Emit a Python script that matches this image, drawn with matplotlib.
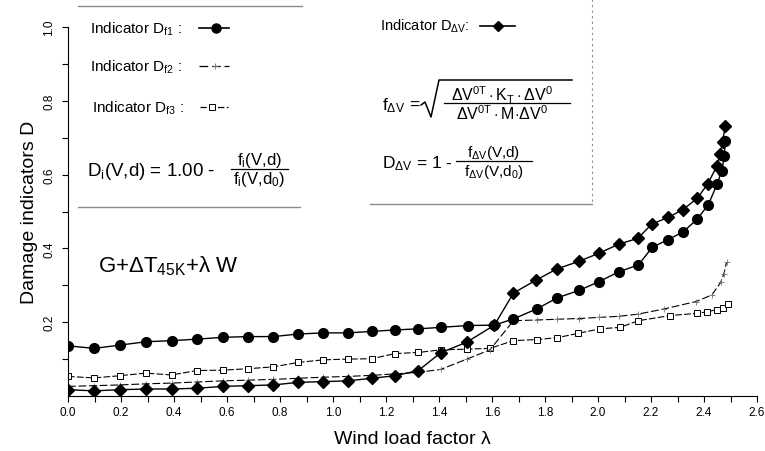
import numpy as np
import matplotlib.pyplot as plt
from matplotlib.lines import Line2D

plt.rcParams['font.family'] = ['Liberation Sans', 'DejaVu Sans']
plt.rcParams['mathtext.fontset'] = 'custom'
plt.rcParams['mathtext.rm'] = 'Liberation Sans'
plt.rcParams['mathtext.it'] = 'Liberation Sans'
plt.rcParams['mathtext.bf'] = 'Liberation Sans:bold'

# ------------------------------------------------------------
#   data
# ------------------------------------------------------------
lam_f1 = [0.0, 0.099, 0.196, 0.294, 0.391, 0.486, 0.584, 0.680, 0.775, 0.869,
          0.963, 1.055, 1.146, 1.234, 1.322, 1.406, 1.508, 1.609, 1.681, 1.769,
          1.846, 1.928, 2.004, 2.080, 2.152, 2.205, 2.265, 2.322, 2.375, 2.416,
          2.450, 2.467, 2.477, 2.480]
d_f1 = [0.136, 0.129, 0.138, 0.147, 0.150, 0.154, 0.159, 0.161, 0.161, 0.168,
        0.171, 0.171, 0.175, 0.179, 0.182, 0.186, 0.191, 0.192, 0.209, 0.236,
        0.266, 0.286, 0.310, 0.337, 0.355, 0.403, 0.424, 0.445, 0.480, 0.518,
        0.575, 0.611, 0.651, 0.692]

lam_f2 = [0.0, 0.099, 0.196, 0.294, 0.391, 0.486, 0.584, 0.680, 0.775, 0.869,
          0.963, 1.055, 1.146, 1.234, 1.322, 1.406, 1.505, 1.592, 1.681, 1.769,
          1.846, 1.928, 2.004, 2.080, 2.152, 2.250, 2.370, 2.430, 2.463, 2.475,
          2.485]
d_f2 = [0.026, 0.028, 0.030, 0.033, 0.035, 0.038, 0.041, 0.043, 0.045, 0.048,
        0.051, 0.053, 0.056, 0.060, 0.064, 0.072, 0.100, 0.125, 0.204, 0.206,
        0.208, 0.210, 0.213, 0.216, 0.222, 0.236, 0.256, 0.274, 0.308, 0.331,
        0.362]

lam_f3 = [0.0, 0.099, 0.196, 0.294, 0.391, 0.486, 0.584, 0.680, 0.775, 0.869,
          0.963, 1.055, 1.146, 1.234, 1.322, 1.406, 1.505, 1.592, 1.681, 1.769,
          1.846, 1.926, 2.008, 2.083, 2.152, 2.272, 2.372, 2.410, 2.448, 2.473,
          2.492]
d_f3 = [0.053, 0.049, 0.055, 0.062, 0.057, 0.069, 0.070, 0.074, 0.079, 0.091,
        0.098, 0.100, 0.101, 0.115, 0.118, 0.125, 0.127, 0.129, 0.150, 0.153,
        0.158, 0.170, 0.182, 0.186, 0.204, 0.218, 0.224, 0.228, 0.234, 0.238,
        0.249]

lam_dv = [0.0, 0.099, 0.196, 0.294, 0.391, 0.486, 0.584, 0.680, 0.775, 0.869,
          0.963, 1.055, 1.146, 1.234, 1.322, 1.406, 1.505, 1.609, 1.681, 1.766,
          1.844, 1.928, 2.004, 2.080, 2.150, 2.203, 2.265, 2.320, 2.375, 2.414,
          2.448, 2.460, 2.470, 2.480]
d_dv = [0.017, 0.014, 0.017, 0.019, 0.019, 0.021, 0.026, 0.028, 0.030, 0.037,
        0.039, 0.041, 0.048, 0.055, 0.069, 0.117, 0.146, 0.192, 0.279, 0.314,
        0.344, 0.365, 0.387, 0.412, 0.427, 0.466, 0.484, 0.505, 0.536, 0.575,
        0.622, 0.656, 0.689, 0.731]

x_ticks = np.arange(0, 2.61, 0.2)
y_ticks = [0.2, 0.4, 0.6, 0.8, 1.0]

W, H = 765, 452
fig = plt.figure(figsize=(W / 100, H / 100), dpi=100)
ax = fig.add_axes([68 / W, 1 - 397 / H, 689 / W, 369 / H])


def fx(px):  # figure pixel -> figure fraction
    return px / W


def fy(py):
    return 1 - py / H


def fline(xs, ys, **kw):  # line in figure pixels
    fig.add_artist(Line2D([fx(v) for v in xs], [fy(v) for v in ys],
                          transform=fig.transFigure, **kw))


def frac(xc, yc, num, den, x0, x1, size=10.5):  # hand made fraction
    fig.text(fx(xc), fy(yc - 9), num, fontsize=size, ha='center', va='center')
    fig.text(fx(xc), fy(yc + 10), den, fontsize=size, ha='center', va='center')
    fline([x0, x1], [yc, yc], color='k', lw=0.9)


# ---------------- curves ----------------
ax.plot(lam_f3, d_f3, color='k', lw=0.8, dashes=(6, 2),
        marker='s', ms=5, mfc='white', mec='k', mew=0.7)
ax.plot(lam_f2, d_f2, color='k', lw=0.8, dashes=(7, 2.5),
        marker='+', ms=4, mec='0.45', mew=0.6)
ax.plot(lam_dv, d_dv, color='k', lw=1.0, marker='D', ms=5.8, mfc='k', mec='k')
ax.plot(lam_f1, d_f1, color='k', lw=1.0, marker='o', ms=7, mfc='k', mec='k')

# ---------------- axes ----------------
ax.set_xlim(0, 2.6)
ax.set_ylim(0, 1.0)
ax.spines['top'].set_visible(False)
ax.spines['right'].set_visible(False)
ax.set_xticks(x_ticks)
ax.set_xticklabels(['{:.1f}'.format(v) for v in x_ticks])
ax.set_xticks(np.arange(0.1, 2.6, 0.2), minor=True)
ax.set_yticks(y_ticks)
ax.set_yticklabels(['{:.1f}'.format(v) for v in y_ticks], rotation=90,
                   va='center')
ax.set_yticks([0.1, 0.3, 0.5, 0.7, 0.9], minor=True)
ax.tick_params(which='both', direction='out', length=4, width=0.8,
               labelsize=8.5, color='k')
ax.tick_params(axis='y', pad=5)
ax.set_xlabel('Wind load factor λ', fontsize=14, labelpad=8)
ax.set_ylabel('Damage indicators D', fontsize=14, labelpad=4)

# ---------------- legend boxes (drawn by hand like the original) ----------------
fline([78, 302], [7, 7], color='0.55', lw=1.0)
fline([78, 300], [208, 208], color='0.55', lw=1.0)
fline([370, 592], [205, 205], color='0.55', lw=1.0)
fline([592, 592], [0, 205], color='0.55', lw=0.8, ls=(0, (2, 3)))

fs = 11
fig.text(fx(90), fy(29), r'Indicator D$_{f1}$ :', fontsize=fs, va='center')
fig.text(fx(90), fy(67), r'Indicator D$_{f2}$ :', fontsize=fs, va='center')
fig.text(fx(92), fy(108), r'Indicator D$_{f3}$ :', fontsize=fs, va='center')
fig.text(fx(380), fy(26), r'Indicator D$_{\Delta V}$:', fontsize=10.5,
         va='center')

# legend symbols
fline([199, 229], [29, 29], color='k', lw=1.2)
fline([216], [29], color='k', marker='o', ms=6.5, mfc='k')
fline([199, 229], [67, 67], color='k', lw=0.9, dashes=(7, 3))
fline([215], [67], marker='+', ms=4, mew=0.6, mec='0.45')
fline([200, 228], [108, 108], color='k', lw=0.9, dashes=(5, 2))
fline([212], [108], color='k', marker='s', ms=5, mfc='white', mew=0.7)
fline([480, 515], [27, 27], color='k', lw=1.2)
fline([498], [27], color='k', marker='D', ms=5, mfc='k')

# formulas
fig.text(fx(87), fy(172), r'D$_i$(V,d) = 1.00 -', fontsize=13.5, va='center')
frac(259, 170, r'f$_i$(V,d)', r'f$_i$(V,d$_0$)', 231, 288, size=12)

fig.text(fx(382), fy(106), r'f$_{\Delta V}$', fontsize=12.5, va='center')
fig.text(fx(409), fy(105), '=', fontsize=12.5, va='center')
frac(502, 104, r'$\Delta$V$^{0T}\cdot$K$_T\cdot$$\Delta$V$^0$',
     r'$\Delta$V$^{0T}\cdot$M$\cdot$$\Delta$V$^0$', 444, 570, size=11.5)
fline([421, 425, 431, 439, 572], [106, 103, 118, 81, 81], color='k', lw=1.1)

fig.text(fx(382), fy(164), r'D$_{\Delta V}$ = 1 -', fontsize=12.5,
         va='center')
frac(494, 162, r'f$_{\Delta V}$(V,d)', r'f$_{\Delta V}$(V,d$_0$)', 456, 532,
     size=11)

fig.text(fx(98), fy(266), r'G+$\Delta$T$_{45K}$+$\lambda$ W', fontsize=16,
         va='center')

fig.savefig('out.png', dpi=100)
